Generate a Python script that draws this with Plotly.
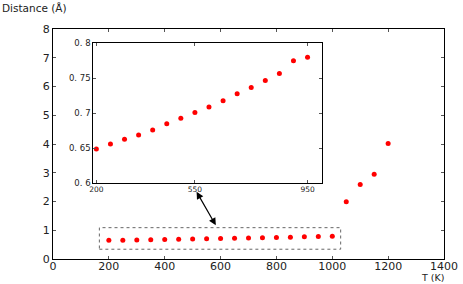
import plotly.graph_objects as go

temperature = [200, 250, 300, 350, 400, 450, 500, 550, 600, 650, 700,
               750, 800, 850, 900, 950, 1000, 1050, 1100, 1150, 1200]
distance = [0.649, 0.656, 0.663, 0.669, 0.676, 0.685, 0.693, 0.701, 0.709,
            0.718, 0.728, 0.737, 0.747, 0.757, 0.775, 0.780, 0.790,
            1.99, 2.59, 2.95, 4.02]
inset_count = 16  # points shown in the inset (200..950 K)

main_xticks = [0, 200, 400, 600, 800, 1000, 1200, 1400]
main_yticks = [0, 1, 2, 3, 4, 5, 6, 7, 8]
inset_xticks = [200, 550, 950]
inset_yticks = [0.6, 0.65, 0.7, 0.75, 0.8]
inset_yticktext = ["0. 6", "0. 65", "0. 7", "0. 75", "0. 8"]

FONT = "DejaVu Sans"
fig = go.Figure()
fig.add_trace(go.Scatter(x=temperature, y=distance, mode="markers",
                         marker=dict(color="#ff0000", size=5),
                         xaxis="x", yaxis="y", showlegend=False))
fig.add_trace(go.Scatter(x=temperature[:inset_count], y=distance[:inset_count],
                         mode="markers", marker=dict(color="#ff0000", size=5),
                         xaxis="x2", yaxis="y2", showlegend=False))

axis_common = dict(showline=True, linecolor="black", linewidth=1, mirror="ticks",
                   ticks="inside", ticklen=3, tickcolor="#555", showgrid=False,
                   zeroline=False, automargin=False)

fig.update_layout(
    width=463, height=284,
    margin=dict(l=53, r=19, t=29, b=25, pad=0),
    paper_bgcolor="white", plot_bgcolor="white",
    font=dict(family=FONT, color="#222"),
    xaxis=dict(range=[0, 1400], tickvals=main_xticks, tickfont=dict(size=11),
               domain=[0, 1], ticklabelstandoff=-3, **axis_common),
    yaxis=dict(range=[0, 8], tickvals=main_yticks, tickfont=dict(size=11),
               domain=[0, 1], **axis_common),
    xaxis2=dict(range=[189, 1000], tickvals=inset_xticks, tickfont=dict(size=7.5),
                domain=[0.103, 0.687], anchor="y2", ticklabelstandoff=-1, **axis_common),
    yaxis2=dict(range=[0.6, 0.8], tickvals=inset_yticks, ticktext=inset_yticktext,
                tickfont=dict(size=8.5), domain=[0.329, 0.938], anchor="x2",
                **axis_common),
    shapes=[dict(type="rect", xref="x", yref="y", x0=166, x1=1030, y0=0.34, y1=1.09,
                 line=dict(color="#666", width=1, dash="dot"))],
    annotations=[
        dict(xref="x", yref="y", x=514, y=2.34, axref="x", ayref="y", ax=586, ay=1.12,
             showarrow=True, arrowhead=2, startarrowhead=2, arrowside="end+start",
             arrowsize=1.2, startarrowsize=1.2, arrowwidth=1.2, arrowcolor="black", text=""),
        dict(xref="paper", yref="paper", x=-0.1355, y=1.091, xanchor="left",
             yanchor="middle", text="Distance (Å)", showarrow=False,
             font=dict(size=10.5, family=FONT, color="#222")),
        dict(xref="paper", yref="paper", x=0.971, y=-0.082, xanchor="center",
             yanchor="middle", text="T (K)", showarrow=False,
             font=dict(size=9.5, family=FONT, color="#222")),
    ],
)

fig.write_html("out.html", config={"displayModeBar": False},
               post_script="document.body.style.margin='0';document.body.style.overflow='hidden';")
